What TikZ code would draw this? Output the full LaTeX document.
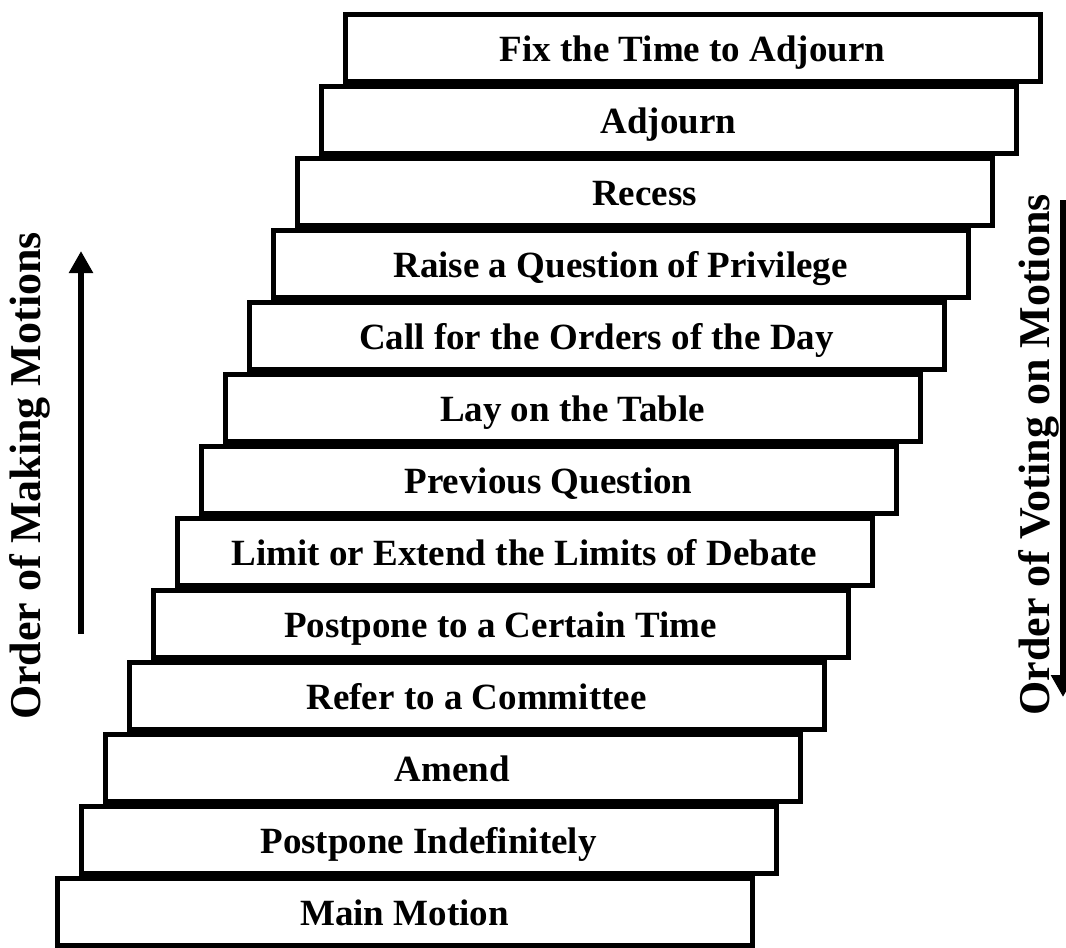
\documentclass[tikz,border=0pt]{standalone}
\usepackage{fontspec}
\setmainfont{Liberation Serif}
\usetikzlibrary{arrows.meta}

\tikzset{
  stepbox/.style={draw, line width=5pt, minimum width=695pt, minimum height=67pt,
    inner sep=0pt, text height=26pt, text depth=0pt,
    font=\bfseries\fontsize{37}{40}\selectfont},
  sidetext/.style={rotate=90, inner sep=0pt, font=\bfseries\fontsize{44}{48}\selectfont},
  bigarrow/.style={line width=6pt, -{Triangle[length=22pt,width=23pt]}}
}

\begin{document}
\begin{tikzpicture}[x=1pt, y=-1pt]
\useasboundingbox (0,0) rectangle (1066,948);
% step centres, bottom to top
\coordinate (A) at (404.5,912);
\coordinate (B) at (428.5,840);
\coordinate (C) at (452.5,768);
\coordinate (D) at (476.5,696);
\coordinate (E) at (500.5,624);
\coordinate (F) at (524.5,552);
\coordinate (G) at (548.5,480);
\coordinate (H) at (572.5,408);
\coordinate (I) at (596.5,336);
\coordinate (J) at (620.5,264);
\coordinate (K) at (644.5,192);
\coordinate (L) at (668.5,120);
\coordinate (M) at (692.5,48);

\node [stepbox] (fix) at (M) {Fix the Time to Adjourn};
\node [stepbox] (adjourn) at (L) {Adjourn};
\node [stepbox] (recess) at (K) {Recess};
\node [stepbox] (privilege) at (J) {Raise a Question of Privilege};
\node [stepbox] (orders) at (I) {Call for the Orders of the Day};
\node [stepbox] (lay) at (H) {Lay on the Table};
\node [stepbox] (previous) at (G) {Previous Question};
\node [stepbox] (limit) at (F) {Limit or Extend the Limits of Debate};
\node [stepbox] (postpone) at (E) {Postpone to a Certain Time};
\node [stepbox] (refer) at (D) {Refer to a Committee};
\node [stepbox] (amend) at (C) {Amend};
\node [stepbox] (indef) at (B) {Postpone Indefinitely};
\node [stepbox] (main) at (A) {Main Motion};

% side arrows
\coordinate (P) at (81,634);
\coordinate (Q) at (81,251);
\coordinate (R) at (1063,200);
\coordinate (S) at (1063,697);
\draw [bigarrow] (P)--(Q);
\draw [bigarrow] (R)--(S);

\node [sidetext] (making) at (30,476) {Order of Making Motions};
\node [sidetext] (voting) at (1039,455) {Order of Voting on Motions};
\end{tikzpicture}
\end{document}
